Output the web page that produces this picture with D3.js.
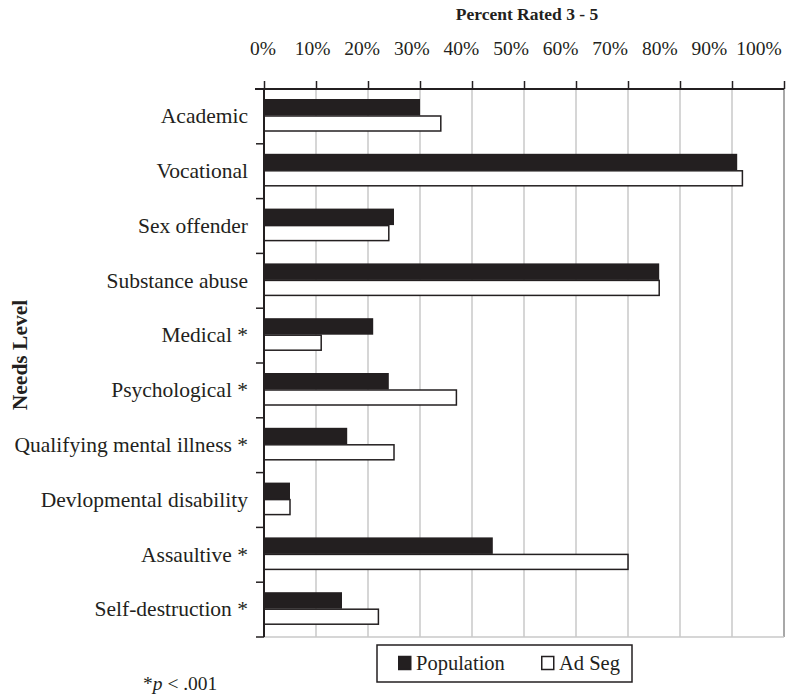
<!DOCTYPE html>
<html><head><meta charset="utf-8">
<script src="https://cdn.jsdelivr.net/npm/d3@7"></script>
<style>body{margin:0;background:#fff}svg{display:block}text{font-family:"Liberation Serif","Times New Roman",serif;fill:#231f20}</style>
</head><body><svg id="c" width="809" height="697"></svg>
<script>
const categories = ["Academic","Vocational","Sex offender","Substance abuse","Medical *","Psychological *","Qualifying mental illness *","Devlopmental disability","Assaultive *","Self-destruction *"];
const population = [30,91,25,76,21,24,16,5,44,15];
const adSeg = [34,92,24,76,11,37,25,5,70,22];
const xTicks = [0,10,20,30,40,50,60,70,80,90,100];
const seriesNames = ["Population","Ad Seg"];

(function(){
const svg = d3.select("#c");
const ink = "#231f20";
const x = d3.scaleLinear().domain([0,100]).range([264,784]);
const xLab = d3.scaleLinear().domain([0,100]).range([263,759]);
const y = d3.scaleBand().domain(categories).range([89,637]);

// gridlines
svg.append("g").selectAll("line").data(xTicks.slice(1)).join("line")
  .attr("x1",d=>x(d)).attr("x2",d=>x(d)).attr("y1",89).attr("y2",637)
  .attr("stroke",d=>d===100?"#a8a8a8":"#c8c8c8").attr("stroke-width",d=>d===100?2:1.5);
svg.append("line").attr("x1",x(0)).attr("x2",x(100)).attr("y1",637).attr("y2",637).attr("stroke","#c8c8c8").attr("stroke-width",1.5);

// bars
const g = svg.append("g");
g.selectAll("rect.pop").data(categories).join("rect").attr("class","pop")
  .attr("x",x(0)).attr("y",d=>y(d)+10).attr("height",16.5)
  .attr("width",(d,i)=>x(population[i])-x(0)).attr("fill",ink);
g.selectAll("rect.ad").data(categories).join("rect").attr("class","ad")
  .attr("x",x(0)).attr("y",d=>y(d)+27).attr("height",15)
  .attr("width",(d,i)=>x(adSeg[i])-x(0)).attr("fill","#fff").attr("stroke",ink).attr("stroke-width",1.5);

// top axis (tick marks)
const topAx = svg.append("g").attr("transform","translate(0,89)")
  .call(d3.axisTop(x).tickValues(xTicks).tickSize(8).tickSizeOuter(0).tickFormat(""));
topAx.select(".domain").remove();
topAx.selectAll(".tick line").attr("stroke",ink).attr("stroke-width",1.5);
svg.append("line").attr("x1",255).attr("x2",784).attr("y1",89).attr("y2",89).attr("stroke",ink).attr("stroke-width",2);
// tick labels
svg.append("g").selectAll("text").data(xTicks).join("text")
  .attr("x",d=>xLab(d)).attr("y",55).attr("text-anchor","middle")
  .style("font-size","19.5px").text(d=>d+"%");

// left axis
const leftAx = svg.append("g").attr("transform","translate(264,0)")
  .call(d3.axisLeft(y).tickSize(0).tickPadding(16));
leftAx.select(".domain").remove();
leftAx.selectAll("text").style("font-size","21.5px").attr("fill",ink);
const bounds = categories.map(c=>y(c)).concat([637]);
svg.append("g").selectAll("line").data(bounds).join("line")
  .attr("x1",256).attr("x2",264).attr("y1",d=>d).attr("y2",d=>d).attr("stroke",ink).attr("stroke-width",1.5);
svg.append("line").attr("x1",264).attr("x2",264).attr("y1",89).attr("y2",637).attr("stroke",ink).attr("stroke-width",2);

// titles
svg.append("text").attr("x",527).attr("y",20).attr("text-anchor","middle")
  .style("font-size","17.5px").style("font-weight","bold").text("Percent Rated 3 - 5");
svg.append("text").attr("transform","translate(27,355) rotate(-90)").attr("text-anchor","middle")
  .style("font-size","21.5px").style("font-weight","bold").text("Needs Level");

// note
const note = svg.append("text").attr("x",143).attr("y",690).style("font-size","19.5px");
note.append("tspan").text("*");
note.append("tspan").style("font-style","italic").text("p");
note.append("tspan").text(" < .001");

// legend
const lg = svg.append("g");
lg.append("rect").attr("x",377).attr("y",645).attr("width",255).attr("height",37)
  .attr("fill","#fff").attr("stroke",ink).attr("stroke-width",1.5);
const items = lg.selectAll("g").data(seriesNames).join("g")
  .attr("transform",(d,i)=>`translate(${i===0?398:541},0)`);
items.append("rect").attr("x",0.75).attr("y",656.5).attr("width",12).attr("height",13)
  .attr("fill",(d,i)=>i===0?ink:"#fff").attr("stroke",ink).attr("stroke-width",1.5);
items.append("text").attr("x",18).attr("y",670).style("font-size",  "20.5px").text(d=>d);
})();
</script></body></html>
